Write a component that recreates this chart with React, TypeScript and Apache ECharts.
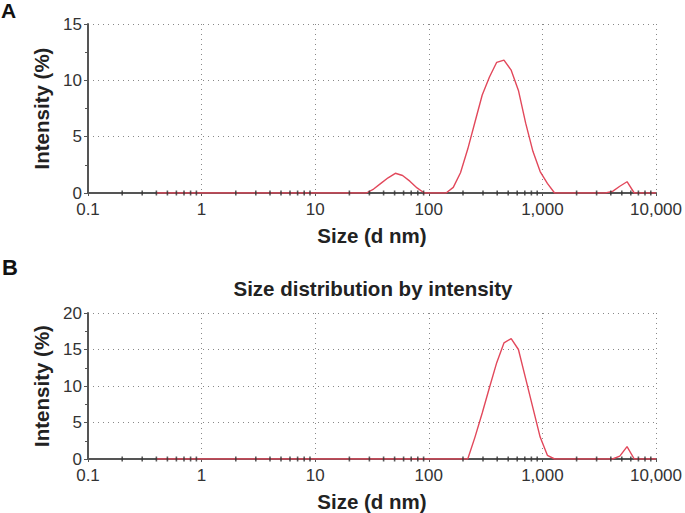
import React, { useEffect, useRef } from "react";
import * as echarts from "echarts";

// Panel A data (size in d.nm, intensity %)
const sizesA = [0.4, 28.21, 32.67, 37.84, 43.82, 50.75, 58.77, 68.06, 78.82, 91.28, 141.8, 164.2, 190.1, 220.2, 255.0, 295.3, 342.0, 396.1, 458.7, 531.2, 615.1, 712.4, 825.0, 955.4, 1106, 1281, 3580, 4145, 4801, 5560, 6439, 10000];
const intensityA = [0, 0, 0.35, 0.85, 1.35, 1.75, 1.55, 1.05, 0.45, 0, 0, 0.5, 1.8, 3.9, 6.3, 8.7, 10.3, 11.6, 11.8, 10.9, 9.1, 6.2, 3.7, 1.9, 0.85, 0, 0, 0.15, 0.6, 1.0, 0, 0];

// Panel B data
const sizesB = [0.4, 220.2, 255.0, 295.3, 342.0, 396.1, 458.7, 531.2, 615.1, 712.4, 825.0, 955.4, 1106, 1281, 4145, 4801, 5560, 6439, 10000];
const intensityB = [0, 0, 3.0, 6.3, 9.8, 13.2, 15.9, 16.5, 15.0, 11.0, 7.0, 3.0, 0.5, 0, 0, 0.4, 1.7, 0, 0];

// Axis ticks
const xTickLabels = ["0.1", "1", "10", "100", "1,000", "10,000"];
const xMinorTicks = [
  0.2, 0.3, 0.4, 0.5, 0.6, 0.7, 0.8, 0.9,
  2, 3, 4, 5, 6, 7, 8, 9,
  20, 30, 40, 50, 60, 70, 80, 90,
  200, 300, 400, 500, 600, 700, 800, 900,
  2000, 3000, 4000, 5000, 6000, 7000, 8000, 9000,
];
const yMaxA = 15;
const yMaxB = 20;

const FONT = "Liberation Sans, Arial, sans-serif";
const RED = "#e2485b";
const AXIS = "#555555";

function xAxisDef(gridIndex: number) {
  return {
    type: "log" as const,
    logBase: 10,
    gridIndex,
    min: 0.1,
    max: 10000,
    name: "Size (d nm)",
    nameLocation: "middle" as const,
    nameGap: 32,
    nameTextStyle: { fontFamily: FONT, fontSize: 20.5, fontWeight: "bold" as const, color: "#222" },
    axisLine: { show: true, onZero: false, lineStyle: { color: AXIS, width: 2 } },
    axisTick: { show: true, length: 3, lineStyle: { color: AXIS } },
    axisLabel: {
      fontFamily: FONT,
      fontSize: 17,
      color: "#333",
      margin: 8,
      formatter: (v: number) => {
        const i = Math.round(Math.log10(v)) + 1;
        return xTickLabels[i] ?? String(v);
      },
    },
    splitLine: { show: true, lineStyle: { color: "#888", width: 1, type: [1, 4] as any } },
  };
}

function yAxisDef(gridIndex: number, max: number) {
  return {
    type: "value" as const,
    gridIndex,
    min: 0,
    max,
    interval: 5,
    name: "Intensity (%)",
    nameLocation: "middle" as const,
    nameGap: 36,
    nameTextStyle: { fontFamily: FONT, fontSize: 20.5, fontWeight: "bold" as const, color: "#222" },
    axisLine: { show: true, lineStyle: { color: AXIS, width: 2 } },
    axisTick: { show: true, length: 4, lineStyle: { color: AXIS } },
    minorTick: { show: true, splitNumber: 2, length: 3, lineStyle: { color: AXIS } },
    axisLabel: { fontFamily: FONT, fontSize: 17, color: "#333", margin: 6 },
    splitLine: { show: true, lineStyle: { color: "#888", width: 1, type: [1, 4] as any } },
  };
}

export default function App() {
  const ref = useRef<HTMLDivElement>(null);
  useEffect(() => {
    if (!ref.current) return;
    const chart = echarts.init(ref.current, null, { renderer: "svg" });
    const lineSeries = (xi: number, sizes: number[], vals: number[]) => ({
      type: "line" as const,
      xAxisIndex: xi,
      yAxisIndex: xi,
      data: sizes.map((s, i) => [s, vals[i]]),
      showSymbol: false,
      symbol: "none",
      lineStyle: { color: RED, width: 1.4 },
      itemStyle: { color: RED },
      z: 2,
    });
    const tickSeries = (xi: number) => ({
      type: "scatter" as const,
      xAxisIndex: xi,
      yAxisIndex: xi,
      data: xMinorTicks.map((t) => [t, 0]),
      symbol: "rect",
      symbolSize: [1.6, 5],
      itemStyle: { color: "#333" },
      silent: true,
      z: 3,
    });
    chart.setOption({
      animation: false,
      grid: [
        { left: 88, right: 25, top: 24, bottom: 320, containLabel: false },
        { left: 88, right: 25, top: 313, bottom: 54, containLabel: false },
      ],
      xAxis: [xAxisDef(0), xAxisDef(1)],
      yAxis: [yAxisDef(0, yMaxA), yAxisDef(1, yMaxB)],
      graphic: [
        { type: "text", left: 1, top: 0, style: { text: "A", fontFamily: FONT, fontSize: 21, fontWeight: "bold", fill: "#111" } },
        { type: "text", left: 2, top: 256, style: { text: "B", fontFamily: FONT, fontSize: 22, fontWeight: "bold", fill: "#111" } },
        {
          type: "text",
          x: 373,
          y: 288,
          style: {
            text: "Size distribution by intensity",
            fontFamily: FONT,
            fontSize: 20.5,
            fontWeight: "bold",
            fill: "#222",
            textAlign: "center",
            textVerticalAlign: "middle",
          },
        },
      ],
      series: [
        lineSeries(0, sizesA, intensityA),
        lineSeries(1, sizesB, intensityB),
        tickSeries(0),
        tickSeries(1),
      ],
    });
    return () => chart.dispose();
  }, []);
  return <div ref={ref} style={{ width: 685, height: 513, position: "absolute", left: 0, top: 0 }} />;
}
